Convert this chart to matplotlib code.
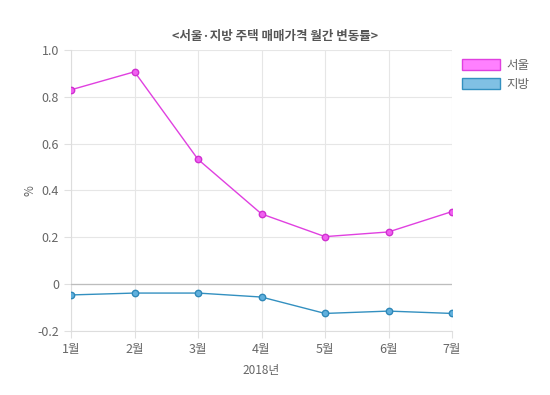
import matplotlib.pyplot as plt
from matplotlib.patches import Patch
from matplotlib.ticker import FuncFormatter

plt.rcParams['font.family'] = ['Noto Sans CJK KR', 'DejaVu Sans']

months = ['1월', '2월', '3월', '4월', '5월', '6월', '7월']
seoul = [0.83, 0.907, 0.533, 0.30, 0.203, 0.223, 0.31]
jibang = [-0.046, -0.038, -0.038, -0.055, -0.125, -0.115, -0.125]
yticks = [-0.2, 0, 0.2, 0.4, 0.6, 0.8, 1.0]

fig = plt.figure(figsize=(5.5, 3.95), dpi=100)
ax = fig.add_axes([71 / 550, 64 / 395, 381 / 550, 281 / 395])

x = list(range(len(months)))
ax.plot(x, seoul, color='#e040e0', lw=1.0, marker='o', ms=4.6,
        mfc='#f060f0', mec='#d030d0', mew=1.0, zorder=3)
ax.plot(x, jibang, color='#3390c0', lw=1.0, marker='o', ms=4.6,
        mfc='#60b0dd', mec='#2f88b8', mew=1.0, zorder=3)

ax.set_xlim(0, len(months) - 1)
ax.set_ylim(-0.2, 1.0)
ax.set_xticks(x)
ax.set_xticklabels(months)
ax.set_yticks(yticks)
ax.yaxis.set_major_formatter(FuncFormatter(lambda v, p: '0' if abs(v) < 1e-9 else f'{v:.1f}'))

ax.grid(True, color='#e6e6e6', lw=0.8)
ax.axhline(0, color='#bdbdbd', lw=0.9, zorder=2.6)
for s in ax.spines.values():
    s.set_visible(False)
ax.spines['left'].set_visible(True)
ax.spines['bottom'].set_visible(True)
ax.spines['left'].set_color('#dddddd')
ax.spines['bottom'].set_color('#dddddd')
ax.tick_params(colors='#e0e0e0', labelcolor='#666666', labelsize=9, length=5, width=0.8)

ax.set_xlabel('2018년', color='#666666', fontsize=8.5, labelpad=6)
ax.set_ylabel('%', color='#666666', fontsize=8.5)
ax.yaxis.set_label_coords(-0.09, 0.5)
fig.text(0.5, 0.908, '<서울·지방 주택 매매가격 월간 변동률>', ha='center', va='center',
         fontsize=9, fontweight='bold', color='#555555')

handles = [Patch(facecolor='#ff80ff', edgecolor='#e040e0', label='서울'),
           Patch(facecolor='#80c0e4', edgecolor='#3390c0', label='지방')]
fig.legend(handles=handles, loc='upper left', bbox_to_anchor=(0.82, 0.88),
           frameon=False, fontsize=9, handlelength=3.0, handleheight=1.0,
           labelcolor='#666666', handletextpad=0.5, labelspacing=0.5)

fig.savefig('out.png', dpi=100)
